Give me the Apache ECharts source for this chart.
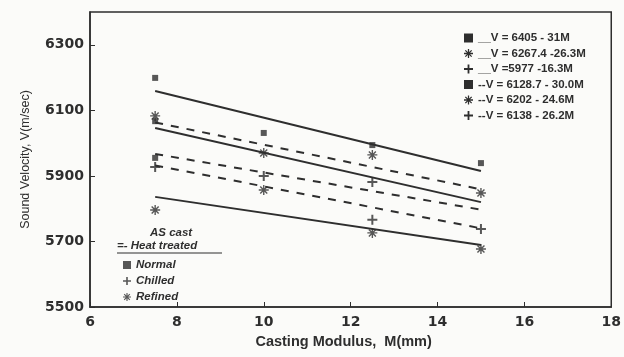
<!DOCTYPE html>
<html>
<head>
<meta charset="utf-8">
<script src="https://cdn.jsdelivr.net/npm/echarts@6/dist/echarts.min.js"></script>
<style>
  html, body { margin: 0; padding: 0; background: #fbfbf9; }
  #chart { width: 624px; height: 357px; }
</style>
</head>
<body>
<div id="chart"></div>
<script>
// fitted lines, drawn between the first and last modulus
const lineM = [7.5, 15];
const lineNames = [
  "__V = 6405 - 31M",
  "__V = 6267.4 -26.3M",
  "__V =5977 -16.3M",
  "--V = 6128.7 - 30.0M",
  "--V = 6202 - 24.6M",
  "--V = 6138 - 26.2M",
];
const solidNormal = [6159, 5915];
const solidRefined = [6046, 5820];
const solidChilled = [5836, 5689];
const dashNormal = [6063, 5859];
const dashRefined = [5967, 5797];
const dashChilled = [5932, 5740];

// measured points: [modulus, velocity]
const normalPts = [[7.5, 6199], [7.5, 6067], [7.5, 5955], [10, 6031], [12.5, 5994], [15, 5939]];
const chilledPts = [[7.5, 5927], [10, 5900], [12.5, 5881], [12.5, 5766], [15, 5738]];
const refinedPts = [[7.5, 6083], [7.5, 5796], [10, 5970], [10, 5857], [12.5, 5964], [12.5, 5726], [15, 5848], [15, 5677]];

const yTicks = [5500, 5700, 5900, 6100, 6300];

const INK = "#2e2e2e";
const SQUARE = "rect";
const PLUS = "path://M4,0H6V4H10V6H6V10H4V6H0V4H4Z";
const STAR = "path://M0,4.3H10V5.7H0Z M4.3,0H5.7V10H4.3Z M1,2L2,1L9,8L8,9Z M8,1L9,2L2,9L1,8Z";

const pair = (vals) => lineM.map((m, i) => [m, vals[i]]);

function lineSeries(name, vals, dashed) {
  return {
    type: "line",
    name,
    data: pair(vals),
    symbol: "none",
    silent: true,
    color: INK,
    lineStyle: { color: INK, width: 2, type: dashed ? [8, 8] : "solid" },
  };
}

function pointSeries(name, pts, symbol, size) {
  return {
    type: "scatter",
    name,
    data: pts,
    symbol,
    symbolSize: size,
    color: INK,
    itemStyle: { color: INK },
  };
}

const chart = echarts.init(document.getElementById("chart"));
chart.setOption({
  animation: false,
  backgroundColor: "#fbfbf9",
  grid: {
    left: 90,
    right: 9,
    top: 12,
    bottom: 50,
    show: true,
    borderColor: INK,
    borderWidth: 1.5,
  },
  legend: [
    {
      orient: "vertical",
      left: 459,
      top: 27,
      itemWidth: 9,
      itemHeight: 9,
      itemGap: 3.5,
      textStyle: { fontFamily: "Liberation Sans", fontWeight: "bold", fontSize: 11.5, color: INK },
      data: lineNames.map((n, i) => ({ name: n, icon: [SQUARE, STAR, PLUS][i % 3] })),
    },
    {
      orient: "vertical",
      left: 118,
      top: 254,
      itemWidth: 8,
      itemHeight: 8,
      itemGap: 4,
      textStyle: { fontFamily: "Liberation Sans", fontWeight: "bold", fontStyle: "italic", fontSize: 11.5, color: INK },
      data: [
        { name: "Normal", icon: SQUARE },
        { name: "Chilled", icon: PLUS },
        { name: "Refined", icon: STAR },
      ],
    },
  ],
  graphic: [
    {
      type: "text",
      left: 150,
      top: 227,
      style: { text: "AS cast", font: "bold italic 11.5px 'Liberation Sans'", fill: INK },
    },
    {
      type: "text",
      left: 117,
      top: 240,
      style: { text: "=- Heat treated", font: "bold italic 11.5px 'Liberation Sans'", fill: INK },
    },
    {
      type: "line",
      shape: { x1: 117, y1: 253, x2: 222, y2: 253 },
      style: { stroke: INK, lineWidth: 1.2 },
    },
  ],
  xAxis: {
    type: "value",
    min: 6,
    max: 18,
    interval: 2,
    name: "Casting Modulus,  M(mm)",
    nameLocation: "middle",
    nameGap: 27,
    nameTextStyle: { fontFamily: "Liberation Sans", fontWeight: "bold", fontSize: 14.5, color: INK, padding: [0, 14, 0, 0] },
    axisLine: { lineStyle: { color: INK, width: 1.5 } },
    axisTick: { inside: true, length: 5, lineStyle: { color: INK } },
    axisLabel: { fontFamily: "DejaVu Sans", fontWeight: "bold", fontSize: 14, color: INK, margin: 8 },
    splitLine: { show: false },
  },
  yAxis: {
    type: "value",
    min: 5500,
    max: 6400,
    name: "Sound Velocity, V(m/sec)",
    nameLocation: "middle",
    nameGap: 58,
    nameTextStyle: { fontFamily: "Liberation Sans", fontSize: 12.5, color: INK },
    axisLine: { lineStyle: { color: INK, width: 1.5 } },
    axisTick: { inside: true, length: 5, customValues: yTicks, lineStyle: { color: INK } },
    axisLabel: {
      customValues: yTicks,
      formatter: (v) => String(v),
      fontFamily: "DejaVu Sans",
      fontWeight: "bold",
      fontSize: 14,
      color: INK,
      margin: 6,
    },
    splitLine: { show: false },
  },
  series: [
    lineSeries(lineNames[0], solidNormal, false),
    lineSeries(lineNames[1], solidRefined, false),
    lineSeries(lineNames[2], solidChilled, false),
    lineSeries(lineNames[3], dashNormal, true),
    lineSeries(lineNames[4], dashRefined, true),
    lineSeries(lineNames[5], dashChilled, true),
    pointSeries("Normal", normalPts, SQUARE, 6),
    pointSeries("Chilled", chilledPts, PLUS, 10),
    pointSeries("Refined", refinedPts, STAR, 10),
  ],
});
</script>
</body>
</html>
